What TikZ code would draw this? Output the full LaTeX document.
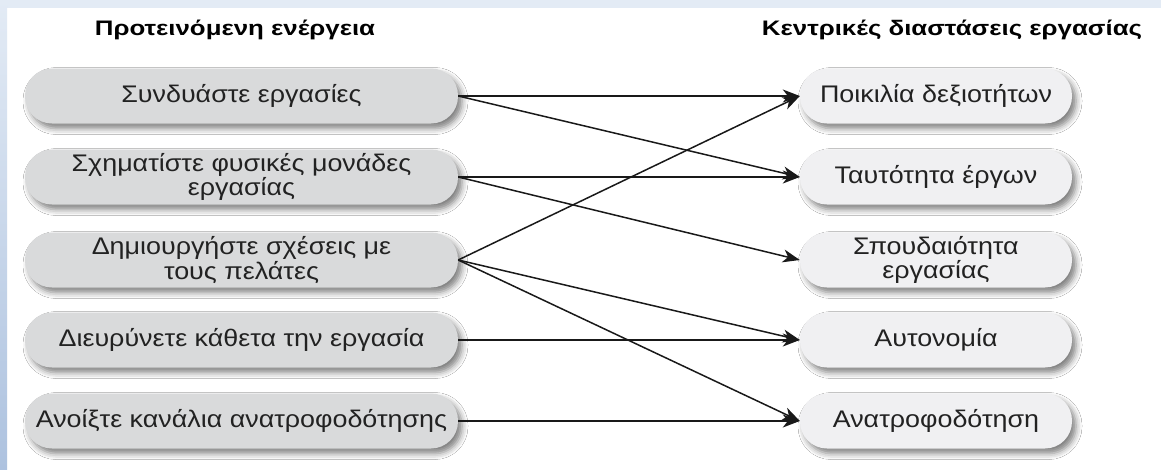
\documentclass[tikz,border=0pt]{standalone}
\usepackage{fontspec}
\setmainfont{Liberation Sans}
\newfontfamily\bodyfont[FakeStretch=1.12]{Liberation Sans}
\newfontfamily\hdrfont[FakeStretch=1.23]{Liberation Sans}
\usetikzlibrary{arrows.meta,shadows.blur}
\definecolor{lfill}{HTML}{D9DADB}
\definecolor{rfill}{HTML}{F0F0F2}
\definecolor{txt}{HTML}{222222}
\definecolor{bgtop}{HTML}{E3EBF5}
\definecolor{bgbot}{HTML}{ADC2DF}
\tikzset{
  lbox/.style={rectangle, rounded corners=27pt, fill=lfill, minimum width=433pt, minimum height=55pt,
    inner sep=0pt, align=center, text=txt, font=\bodyfont\fontsize{24}{23}\selectfont,
    blur shadow={shadow xshift=4pt, shadow yshift=-5pt, shadow blur radius=6pt, shadow opacity=50}},
  rbox/.style={lbox, fill=rfill, minimum width=272pt},
  hdr/.style={text=black, font=\hdrfont\bfseries\fontsize{21}{22}\selectfont, inner sep=0pt},
  arr/.style={draw=black!90, line width=1.5pt, -{Stealth[length=17pt,width=13pt,inset=5pt]}}
}
\begin{document}
\begin{tikzpicture}[x=1pt,y=-1pt]
\useasboundingbox (0,0) rectangle (1161,469);
\fill[white] (0,0) rectangle (1161,469);
\fill[bgtop] (0,0) rectangle (1161,8);
\shade[top color=bgtop, bottom color=bgbot] (0,0) rectangle (7,469);
\node[hdr] (h1) at (235,30) {Προτεινόμενη ενέργεια};
\node[hdr] (h2) at (952,30) {Κεντρικές διαστάσεις εργασίας};
\node[lbox] (l1) at (241.5,96) {Συνδυάστε εργασίες};
\node[lbox] (l2) at (241.5,177) {Σχηματίστε φυσικές μονάδες\\εργασίας};
\node[lbox] (l3) at (241.5,260) {Δημιουργήστε σχέσεις με\\τους πελάτες};
\node[lbox] (l4) at (241.5,340) {Διευρύνετε κάθετα την εργασία};
\node[lbox] (l5) at (241.5,421) {Ανοίξτε κανάλια ανατροφοδότησης};
\node[rbox] (r1) at (936,96) {Ποικιλία δεξιοτήτων};
\node[rbox] (r2) at (936,177) {Ταυτότητα έργων};
\node[rbox] (r3) at (936,260) {Σπουδαιότητα\\εργασίας};
\node[rbox] (r4) at (936,340) {Αυτονομία};
\node[rbox] (r5) at (936,421) {Ανατροφοδότηση};
\draw[arr] (l1.east) -- (r1.west);
\draw[arr] (l1.east) -- (r2.west);
\draw[arr] (l2.east) -- (r2.west);
\draw[arr] (l2.east) -- (r3.west);
\draw[arr] (l3.east) -- (r1.west);
\draw[arr] (l3.east) -- (r4.west);
\draw[arr] (l3.east) -- (r5.west);
\draw[arr] (l4.east) -- (r4.west);
\draw[arr] (l5.east) -- (r5.west);
\end{tikzpicture}
\end{document}
